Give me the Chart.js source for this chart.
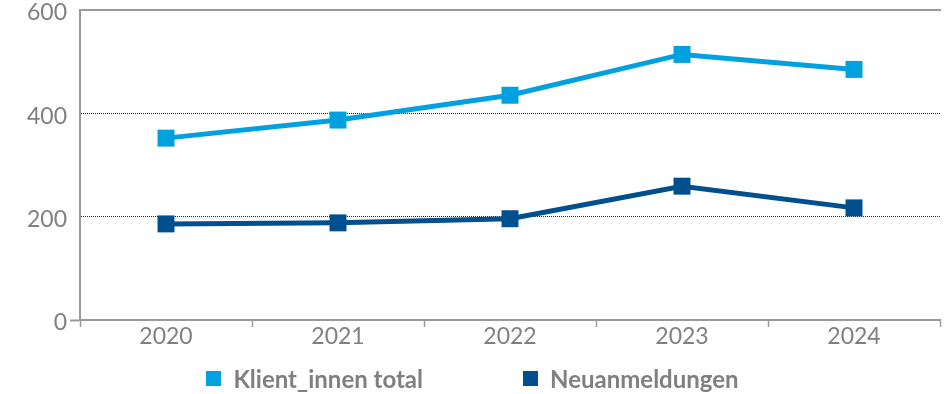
<!DOCTYPE html>
<html lang="de">
<head>
<meta charset="utf-8">
<script src="https://cdn.jsdelivr.net/npm/chart.js@4/dist/chart.umd.min.js"></script>
<style>
    html, body { margin: 0; padding: 0; background: #fff; }
    .wrap { position: relative; width: 945px; height: 394px; }
    .legend {
        position: absolute; left: 0; right: 0; top: 364px;
        display: flex; justify-content: center; gap: 100px;
        font: 700 24px Lato, sans-serif; color: #808080;
    }
    .legend span { display: flex; align-items: center; }
    .legend i { display: inline-block; width: 15px; height: 15px; margin-right: 12px; }
</style>
</head>
<body>
<div class="wrap">
    <canvas id="chart" width="945" height="394"></canvas>
    <div class="legend" id="legend"></div>
</div>
<script>

const years = [ '2020', '2021', '2022', '2023', '2024' ];
const klientTotal = [ 352, 387, 435, 514, 485 ];
const neuanmeldungen = [ 186, 188, 196, 259, 217 ];
const yTicks = [ 0, 200, 400, 600 ];

const seriesNames = [ 'Klient_innen total', 'Neuanmeldungen' ];
const seriesColors = [ '#00a1de', '#00508f' ];

const axisGrey = '#9a9a9a',
      labelGrey = '#808080';

/**
 * build one line dataset
 * @param {Int} i series index
 * @param {Array} values series values
 * @returns dataset
 */
function line_dataset( i, values ) {

    return {
        label: seriesNames[ i ],
        data: values,
        borderColor: seriesColors[ i ],
        backgroundColor: seriesColors[ i ],
        borderWidth: 5,
        tension: 0,
        pointStyle: 'rect',
        pointRadius: 12,
        pointHoverRadius: 12,
        pointBorderWidth: 0
    };

};

/**
 * write html legend
 */
function legend_add() {

    let box = document.getElementById( 'legend' );

    seriesNames.forEach( ( name, i ) => {

        let item = document.createElement( 'span' ),
            mark = document.createElement( 'i' );

        mark.style.background = seriesColors[ i ];
        item.appendChild( mark );
        item.appendChild( document.createTextNode( name ) );
        box.appendChild( item );

    } );

};

new Chart( document.getElementById( 'chart' ).getContext( '2d' ), {
    type: 'line',
    data: {
        labels: years,
        datasets: [
            line_dataset( 0, klientTotal ),
            line_dataset( 1, neuanmeldungen )
        ]
    },
    options: {
        responsive: false,
        animation: false,
        layout: {
            autoPadding: false,
            padding: { top: 0, right: 5, bottom: 0, left: 0 }
        },
        plugins: {
            legend: { display: false },
            tooltip: { enabled: false }
        },
        scales: {
            x: {
                offset: true,
                afterFit: ( scale ) => { scale.height = 74; },
                border: { color: axisGrey, width: 2 },
                grid: {
                    offset: true,
                    drawOnChartArea: false,
                    tickLength: 7,
                    tickWidth: 1.5,
                    tickColor: axisGrey
                },
                ticks: {
                    padding: 0,
                    color: labelGrey,
                    font: { family: 'Lato, sans-serif', size: 23, lineHeight: 0.85 }
                }
            },
            x2: {
                position: 'top',
                afterFit: ( scale ) => { scale.height = 10; },
                border: { color: axisGrey, width: 2 },
                grid: { display: false },
                ticks: { display: false }
            },
            y: {
                min: 0,
                max: 600,
                afterFit: ( scale ) => { scale.width = 80; },
                afterBuildTicks: ( scale ) => {
                    scale.ticks = yTicks.map( v => ( { value: v } ) );
                },
                border: { color: axisGrey, width: 2, dash: [ 1, 1 ] },
                grid: {
                    color: ( c ) => ( c.tick && ( c.tick.value === 0 || c.tick.value === 600 ) ) ? 'rgba(0,0,0,0)' : '#2a2a2a',
                    lineWidth: 1,
                    tickLength: 10,
                    tickWidth: 2,
                    tickBorderDash: [],
                    tickColor: ( c ) => ( c.tick && c.tick.value === 0 ) ? axisGrey : 'rgba(0,0,0,0)'
                },
                ticks: {
                    padding: 3,
                    labelOffset: 3,
                    color: labelGrey,
                    font: { family: 'Lato, sans-serif', size: 23, lineHeight: 0.55 }
                }
            }
        }
    }
} );

legend_add();

</script>
</body>
</html>
